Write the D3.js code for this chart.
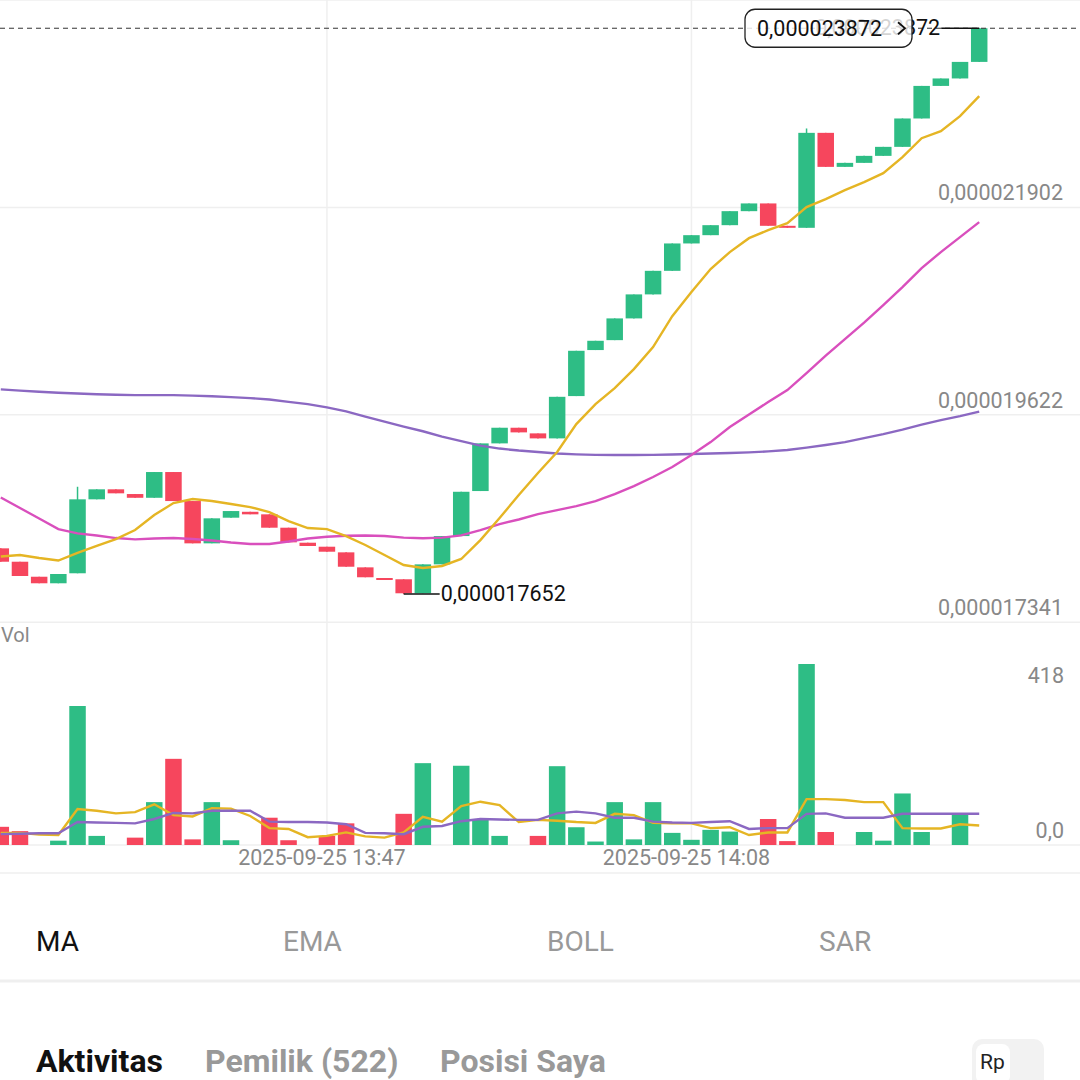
<!DOCTYPE html>
<html>
<head>
<meta charset="utf-8">
<title>Candles</title>
<style>
  body { margin: 0; background: #fff; }
  svg { font-family: Roboto, "Noto Sans", sans-serif; display: block; }
</style>
</head>
<body>
<script src="https://d3js.org/d3.v7.min.js"></script>
<div id="chart"></div>
<script>
// prices are stored in units of 1e-9 (17341 -> 0,000017341)
var open  = [18154, 18007, 17842, 17770, 17880, 18693, 18803, 18751, 18710, 18993, 18674, 18209, 18491, 18556, 18528, 18381, 18216, 18172, 18110, 17945, 17828, 17814, 17660, 17978, 18289, 18784, 19308, 19480, 19418, 19363, 19828, 20334, 20443, 20682, 20946, 21205, 21506, 21597, 21707, 21861, 21946, 21700, 21678, 22722, 22348, 22392, 22469, 22568, 22880, 23238, 23320, 23502];
var close = [18007, 17850, 17770, 17872, 18693, 18803, 18759, 18710, 18993, 18674, 18209, 18484, 18564, 18528, 18381, 18220, 18180, 18117, 17952, 17836, 17806, 17660, 17978, 18289, 18776, 19308, 19480, 19429, 19363, 19820, 20326, 20436, 20682, 20946, 21205, 21506, 21597, 21707, 21861, 21946, 21700, 21678, 22722, 22348, 22392, 22469, 22568, 22880, 23238, 23320, 23502, 23872];
var high  = [18154, 18007, 17842, 17872, 18831, 18803, 18803, 18751, 18993, 18993, 18674, 18484, 18564, 18556, 18528, 18381, 18216, 18172, 18110, 17945, 17828, 17814, 17978, 18289, 18776, 19308, 19480, 19480, 19418, 19820, 20326, 20436, 20682, 20946, 21205, 21506, 21597, 21707, 21861, 21946, 21946, 21700, 22770, 22722, 22392, 22469, 22568, 22880, 23238, 23320, 23502, 23872];
var low   = [18007, 17850, 17770, 17770, 17880, 18693, 18759, 18710, 18710, 18674, 18209, 18209, 18491, 18528, 18381, 18220, 18180, 18117, 17952, 17836, 17806, 17652, 17660, 17978, 18289, 18784, 19308, 19429, 19363, 19363, 19828, 20334, 20443, 20682, 20946, 21205, 21506, 21597, 21707, 21861, 21700, 21678, 21678, 22348, 22348, 22392, 22469, 22568, 22880, 23238, 23320, 23502];

var maFast = [18064, 18081, 18048, 18020, 18103, 18180, 18256, 18355, 18520, 18652, 18696, 18674, 18641, 18608, 18553, 18454, 18377, 18366, 18289, 18191, 18081, 17971, 17938, 17960, 18037, 18245, 18487, 18740, 18982, 19213, 19520, 19740, 19916, 20125, 20367, 20707, 20971, 21224, 21411, 21564, 21652, 21729, 21905, 21993, 22092, 22180, 22279, 22455, 22663, 22740, 22905, 23125];
var maMid  = [18713, 18597, 18482, 18366, 18319, 18295, 18267, 18253, 18262, 18267, 18256, 18240, 18218, 18202, 18202, 18229, 18262, 18282, 18293, 18295, 18289, 18272, 18265, 18272, 18297, 18355, 18421, 18471, 18531, 18575, 18619, 18674, 18751, 18839, 18938, 19048, 19180, 19322, 19487, 19625, 19762, 19894, 20081, 20273, 20454, 20636, 20828, 21026, 21235, 21411, 21575, 21740];
var maSlow = [19902, 19888, 19875, 19864, 19856, 19848, 19843, 19839, 19839, 19839, 19833, 19826, 19817, 19806, 19790, 19764, 19740, 19704, 19660, 19603, 19548, 19493, 19441, 19383, 19333, 19284, 19251, 19229, 19213, 19196, 19187, 19182, 19180, 19180, 19182, 19186, 19191, 19196, 19202, 19209, 19220, 19235, 19262, 19290, 19322, 19366, 19410, 19460, 19515, 19564, 19608, 19658];

var volume = [42, 32, 0, 10, 321, 21, 0, 17, 99, 199, 13, 99, 11, 0, 63, 11, 0, 21, 50, 0, 0, 72, 189, 0, 183, 58, 21, 0, 21, 182, 41, 8, 99, 13, 99, 28, 12, 35, 31, 0, 60, 9, 418, 30, 0, 30, 10, 119, 30, 0, 71, 0];
var volMa5  = [28, 28, 24, 23, 83, 79, 73, 76, 94, 69, 66, 85, 84, 67, 39, 37, 18, 21, 29, 20, 17, 29, 65, 54, 90, 100, 92, 53, 58, 56, 53, 51, 72, 69, 51, 50, 50, 39, 41, 23, 29, 29, 106, 106, 104, 99, 99, 39, 38, 38, 48, 45];
var volMa10 = [25, 26, 27, 27, 53, 52, 51, 50, 60, 74, 73, 79, 79, 79, 54, 53, 53, 52, 48, 28, 27, 25, 42, 44, 55, 60, 59, 58, 58, 73, 77, 73, 63, 63, 54, 52, 51, 53, 55, 37, 39, 39, 72, 73, 63, 63, 63, 72, 72, 72, 72, 72];

var priceTicks = [17341, 19622, 21902];
var volTicks = [0, 418];
var timeTickIndex = [17, 36];
var timeTickText = ["2025-09-25 13:47", "2025-09-25 14:08"];
var maTabs = ["MA", "EMA", "BOLL", "SAR"];
var pageTabs = ["Aktivitas", "Pemilik (522)", "Posisi Saya"];

var width = 1080, height = 1080;
var up = "#2ebd85", down = "#f6465d";

var svg = d3.select("#chart").append("svg")
  .attr("width", width)
  .attr("height", height);

var idx = d3.range(open.length);
var x = d3.scaleBand().domain(idx).range([-8.8, 988.8]).paddingInner(0.14).paddingOuter(0.07);
var cx = function(i) { return x(i) + x.bandwidth() / 2; };
var y = d3.scaleLinear().domain([17341, 24182.5]).range([622.3, 0]);
var yv = d3.scaleLinear().domain([0, 418]).range([845, 664]);
var fmt = function(v) { return d3.format(".9f")(v * 1e-9).replace(".", ","); };
var col = function(i) { return close[i] >= open[i] ? up : down; };

// grid
var grid = svg.append("g").attr("stroke", "#efefef").attr("stroke-width", 1.5);
grid.selectAll("line.h")
  .data(priceTicks.concat([y.domain()[1]]))
  .enter().append("line")
    .attr("x1", 0).attr("x2", width)
    .attr("y1", function(d) { return y(d); })
    .attr("y2", function(d) { return y(d); });
grid.selectAll("line.v")
  .data(timeTickIndex)
  .enter().append("line")
    .attr("x1", function(d) { return cx(d); })
    .attr("x2", function(d) { return cx(d); })
    .attr("y1", 0).attr("y2", yv(0));
grid.append("line").attr("x1", 0).attr("x2", width).attr("y1", yv(0)).attr("y2", yv(0));
grid.append("line").attr("x1", 0).attr("x2", width).attr("y1", 873).attr("y2", 873);

// price labels
svg.append("g").selectAll("text")
  .data(priceTicks)
  .enter().append("text")
    .attr("x", 1063)
    .attr("y", function(d) { return y(d) - 7; })
    .attr("text-anchor", "end")
    .attr("font-size", "21.5px")
    .attr("fill", "#888")
    .text(fmt);

// candles
var candles = svg.append("g");
candles.selectAll("line")
  .data(idx)
  .enter().append("line")
    .attr("x1", cx).attr("x2", cx)
    .attr("y1", function(i) { return y(high[i]); })
    .attr("y2", function(i) { return y(low[i]); })
    .attr("stroke", col)
    .attr("stroke-width", 1.5);
candles.selectAll("rect")
  .data(idx)
  .enter().append("rect")
    .attr("x", function(i) { return x(i); })
    .attr("width", x.bandwidth())
    .attr("y", function(i) { return y(Math.max(open[i], close[i])); })
    .attr("height", function(i) { return Math.max(2, Math.abs(y(open[i]) - y(close[i]))); })
    .attr("fill", col);

// moving averages
var line = d3.line().x(function(d, i) { return cx(i); }).y(function(d) { return y(d); });
[[maSlow, "#8b68c2"], [maMid, "#d94fbd"], [maFast, "#e5b524"]].forEach(function(s) {
  svg.append("path")
    .datum(s[0])
    .attr("d", line)
    .attr("fill", "none")
    .attr("stroke", s[1])
    .attr("stroke-width", 2.4);
});

// volume
svg.append("text").attr("x", 1).attr("y", 642).attr("font-size", "20px").attr("fill", "#888").text("Vol");
svg.append("g").selectAll("rect")
  .data(idx.filter(function(i) { return volume[i] > 0; }))
  .enter().append("rect")
    .attr("x", function(i) { return x(i); })
    .attr("width", x.bandwidth())
    .attr("y", function(i) { return yv(volume[i]); })
    .attr("height", function(i) { return yv(0) - yv(volume[i]); })
    .attr("fill", col);
var vline = d3.line().x(function(d, i) { return cx(i); }).y(function(d) { return yv(d); });
[[volMa5, "#e5b524"], [volMa10, "#8b68c2"]].forEach(function(s) {
  svg.append("path")
    .datum(s[0])
    .attr("d", vline)
    .attr("fill", "none")
    .attr("stroke", s[1])
    .attr("stroke-width", 2.4);
});
svg.append("g").selectAll("text")
  .data(volTicks)
  .enter().append("text")
    .attr("x", 1064)
    .attr("y", function(d) { return d === 0 ? yv(d) - 7 : yv(d) + 19; })
    .attr("text-anchor", "end")
    .attr("font-size", "21.5px")
    .attr("fill", "#888")
    .text(function(d) { return d === 0 ? "0,0" : d; });

// time labels
svg.append("g").selectAll("text")
  .data(timeTickIndex)
  .enter().append("text")
    .attr("x", function(d) { return cx(d) - 5; })
    .attr("y", 865)
    .attr("text-anchor", "middle")
    .attr("font-size", "21.5px")
    .attr("fill", "#888")
    .text(function(d, i) { return timeTickText[i]; });

// last price line
var last = close.length - 1;
svg.append("line")
  .attr("x1", 0).attr("x2", width)
  .attr("y1", y(close[last])).attr("y2", y(close[last]))
  .attr("stroke", "#333")
  .attr("stroke-dasharray", "5,4");

// low / high markers
var iLow = d3.minIndex(low), iHigh = d3.maxIndex(high);
svg.append("line")
  .attr("x1", cx(iLow)).attr("x2", cx(iLow) + 36)
  .attr("y1", y(low[iLow])).attr("y2", y(low[iLow]))
  .attr("stroke", "#111").attr("stroke-width", 1.3);
svg.append("text")
  .attr("x", cx(iLow) + 37).attr("y", y(low[iLow]) + 7)
  .attr("font-size", "21.5px").attr("fill", "#111")
  .text(fmt(low[iLow]));
svg.append("line")
  .attr("x1", cx(iHigh)).attr("x2", cx(iHigh) - 38)
  .attr("y1", y(high[iHigh])).attr("y2", y(high[iHigh]))
  .attr("stroke", "#111").attr("stroke-width", 1.3);
svg.append("text")
  .attr("x", cx(iHigh) - 39).attr("y", y(high[iHigh]) + 7)
  .attr("text-anchor", "end")
  .attr("font-size", "21.5px").attr("fill", "#111")
  .text(fmt(high[iHigh]));

// current price tag
var tag = svg.append("g").attr("transform", "translate(745," + (y(close[last]) - 19) + ")");
tag.append("rect")
  .attr("width", 167).attr("height", 38).attr("rx", 10)
  .attr("fill", "#fff").attr("fill-opacity", 0.82)
  .attr("stroke", "#222").attr("stroke-width", 1.3);
tag.append("text")
  .attr("x", 12).attr("y", 27)
  .attr("font-size", "21.5px").attr("fill", "#111")
  .text(fmt(close[last]));
tag.append("path")
  .attr("d", "M153,13 L160,19 L153,25")
  .attr("fill", "none").attr("stroke", "#111").attr("stroke-width", 1.8);

// indicator tabs
var tabX = [36, 283, 547, 819];
svg.append("g").selectAll("text")
  .data(maTabs)
  .enter().append("text")
    .attr("x", function(d, i) { return tabX[i]; })
    .attr("y", 951)
    .attr("font-size", "28px")
    .attr("fill", function(d, i) { return i === 0 ? "#111" : "#999"; })
    .text(function(d) { return d; });
svg.append("line").attr("x1", 0).attr("x2", width).attr("y1", 981).attr("y2", 981)
  .attr("stroke", "#efefef").attr("stroke-width", 3);

// page tabs
var pageX = [36, 205, 440];
svg.append("g").selectAll("text")
  .data(pageTabs)
  .enter().append("text")
    .attr("x", function(d, i) { return pageX[i]; })
    .attr("y", 1072)
    .attr("font-size", "32px")
    .attr("font-weight", 700)
    .attr("fill", function(d, i) { return i === 0 ? "#111" : "#999"; })
    .text(function(d) { return d; });
svg.append("rect").attr("x", 972).attr("y", 1039).attr("width", 72).attr("height", 50).attr("rx", 10).attr("fill", "#f2f2f2");
svg.append("rect").attr("x", 976).attr("y", 1044).attr("width", 34).attr("height", 40).attr("rx", 8).attr("fill", "#fff");
svg.append("text").attr("x", 980).attr("y", 1069).attr("font-size", "21px").attr("fill", "#222").text("Rp");
</script>
</body>
</html>
